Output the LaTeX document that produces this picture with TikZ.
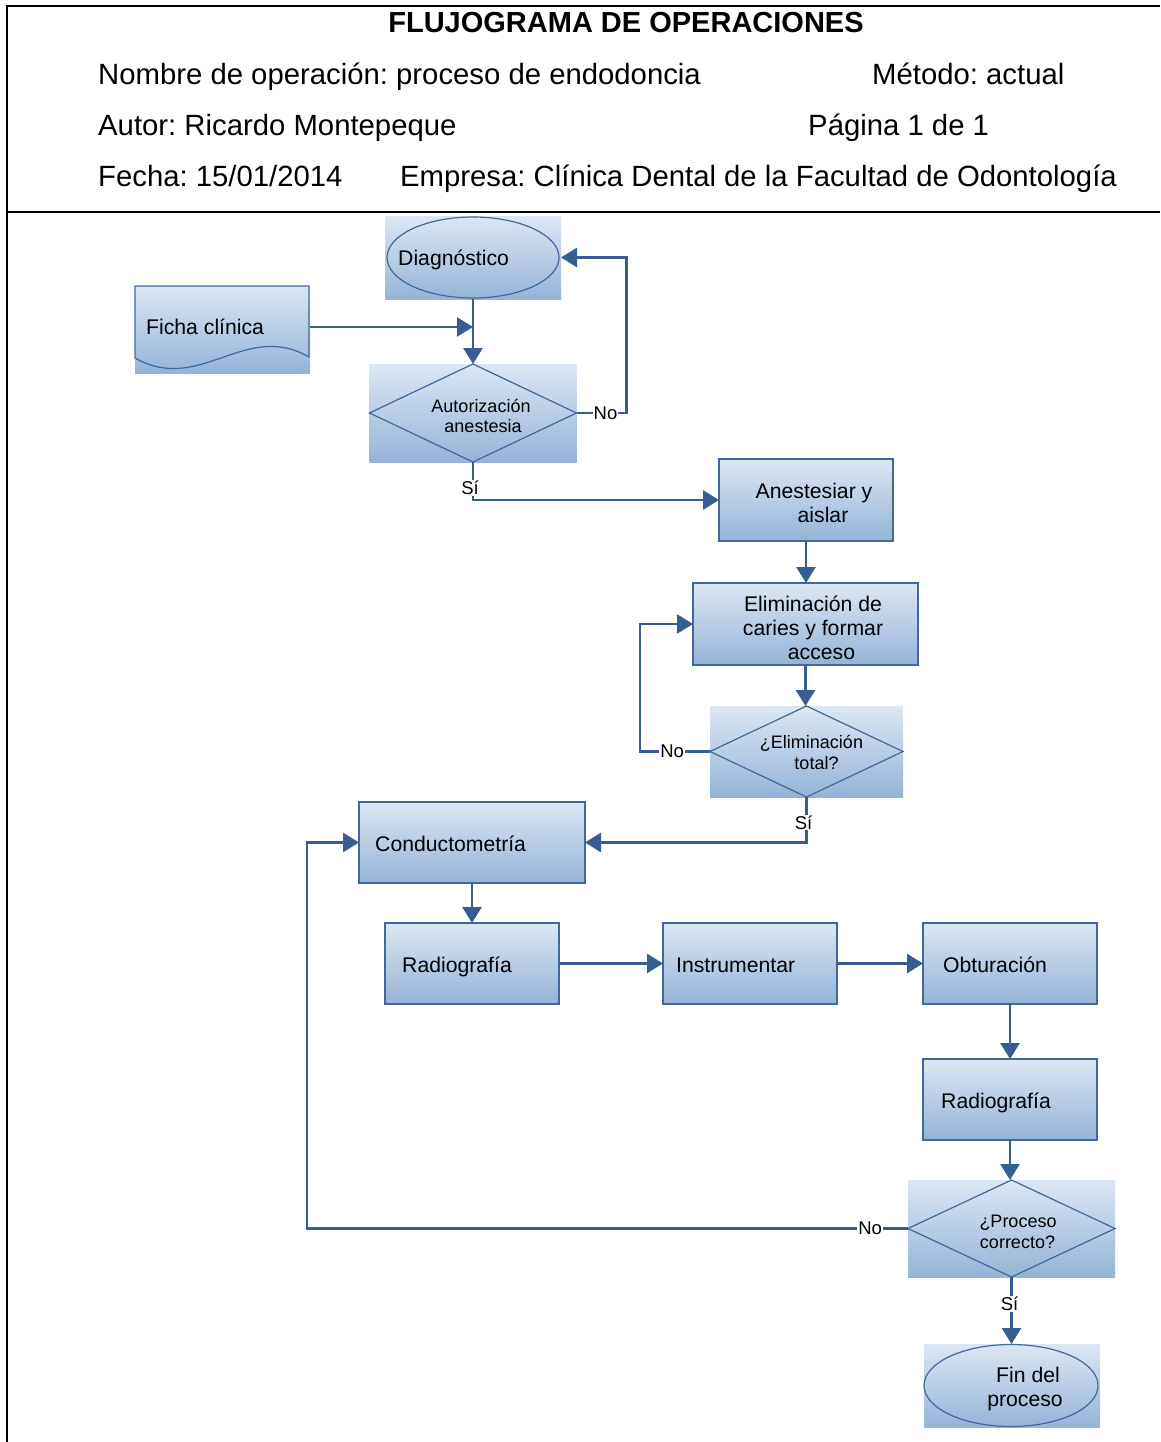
\documentclass[tikz,border=0pt]{standalone}
\usepackage{fontspec}
\setmainfont{Liberation Sans}
\frenchspacing
\usetikzlibrary{arrows.meta,calc}
\definecolor{flowline}{RGB}{54,94,146}
\definecolor{shapeline}{RGB}{66,104,156}
\definecolor{gradtop}{RGB}{221,231,243}
\definecolor{gradbot}{RGB}{149,179,215}
\tikzset{
  panel/.style={inner sep=0pt, outer sep=0pt, top color=gradtop, bottom color=gradbot, draw=none},
  procbox/.style={panel, draw=shapeline, line width=1.2pt},
  outline/.style={draw=shapeline, line width=1.2pt},
  flow/.style={draw=flowline, line width=2.8pt, -{Triangle[length=16pt,width=19pt]}},
  lbl/.style={fill=white, inner sep=1pt, font=\fontsize{18.5}{20}\selectfont},
  boxtxt/.style={inner sep=0pt, anchor=base west, font=\fontsize{21.2}{25}\selectfont},
  boxline/.style={inner sep=0pt, anchor=base, font=\fontsize{21.2}{25}\selectfont},
  diatxt/.style={inner sep=0pt, anchor=base, font=\fontsize{18}{20}\selectfont},
  headtxt/.style={inner sep=0pt, anchor=base west, font=\fontsize{29.3}{34}\selectfont},
}
\begin{document}
\begin{tikzpicture}[x=1pt, y=-1pt]
\useasboundingbox[fill=white] (0,0) rectangle (1160,1442);

% header frame
\draw[line width=2pt] (7,1442) -- (7,6) -- (1160,6);
\draw[line width=2pt] (7,212) -- (1160,212);

% header texts
\node[inner sep=0pt, anchor=base, font=\fontsize{29}{34}\selectfont\bfseries] (title) at (626,33) {FLUJOGRAMA DE OPERACIONES};
\node[headtxt] (hname) at (98,85) {Nombre de operación: proceso de endodoncia};
\node[headtxt] (hmeth) at (872,85) {Método: actual};
\node[headtxt] (hauth) at (98,136) {Autor: Ricardo Montepeque};
\node[headtxt] (hpage) at (808,136) {Página 1 de 1};
\node[headtxt] (hdate) at (98,187) {Fecha: 15/01/2014};
\node[headtxt] (hcomp) at (400,187) {Empresa: Clínica Dental de la Facultad de Odontología};

% shapes
\node[panel, minimum width=176, minimum height=83] (diag) at (473,257.5) {};
\draw[outline] (diag.center) ellipse [x radius=86, y radius=40.5];
\node[boxtxt] (diagt) at (398,265) {Diagnóstico};

\node[panel, minimum width=175, minimum height=87] (ficha) at (222.5,329.5) {};
\draw[outline] (135,358) -- (135,286) -- (309,286) -- (309,357)
  .. controls (245,320) and (200,395) .. (135,358);
\node[boxtxt] (fichat) at (146,334.5) {Ficha clínica};

\node[panel, minimum width=207, minimum height=98] (dA) at (473,413) {};
\draw[outline] (dA.north) -- (dA.east) -- (dA.south) -- (dA.west) -- cycle;
\node[diatxt] (dAt1) at (481,412) {Autorización};
\node[diatxt] (dAt2) at (483,432) {anestesia};

\node[procbox, minimum width=174, minimum height=82] (anest) at (806,500) {};
\node[boxline] (anestt1) at (814,498) {Anestesiar y};
\node[boxline] (anestt2) at (823,522) {aislar};

\node[procbox, minimum width=225, minimum height=82] (elim) at (805.5,624) {};
\node[boxline] (elimt1) at (813,611) {Eliminación de};
\node[boxline] (elimt2) at (813,635) {caries y formar};
\node[boxline] (elimt3) at (821.5,659) {acceso};

\node[panel, minimum width=193, minimum height=91] (dE) at (806.5,751.5) {};
\draw[outline] (dE.north) -- (dE.east) -- (dE.south) -- (dE.west) -- cycle;
\node[diatxt] (dEt1) at (811.5,748) {¿Eliminación};
\node[diatxt] (dEt2) at (816.5,769) {total?};

\node[procbox, minimum width=226, minimum height=81] (cond) at (472,842.5) {};
\node[boxtxt] (condt) at (375,851) {Conductometría};

\node[procbox, minimum width=174, minimum height=81] (rad1) at (472,963.5) {};
\node[boxtxt] (rad1t) at (402,972) {Radiografía};

\node[procbox, minimum width=174, minimum height=81] (instr) at (750,963.5) {};
\node[boxtxt] (instrt) at (676,972) {Instrumentar};

\node[procbox, minimum width=174, minimum height=81] (obt) at (1010,963.5) {};
\node[boxtxt] (obtt) at (943,972) {Obturación};

\node[procbox, minimum width=174, minimum height=81] (rad2) at (1010,1099.5) {};
\node[boxtxt] (rad2t) at (941,1108) {Radiografía};

\node[panel, minimum width=207, minimum height=97] (dP) at (1011.5,1228.5) {};
\draw[outline] (dP.north) -- (dP.east) -- (dP.south) -- (dP.west) -- cycle;
\node[diatxt] (dPt1) at (1018,1227) {¿Proceso};
\node[diatxt] (dPt2) at (1017.5,1248) {correcto?};

\node[panel, minimum width=176, minimum height=83] (fin) at (1012,1385.5) {};
\draw[outline] ([xshift=-1pt]fin.center) ellipse [x radius=87, y radius=41];
\node[boxline] (fint1) at (1028,1382) {Fin del};
\node[boxline] (fint2) at (1025,1406) {proceso};

% connectors
\draw[flow] (diag.south) -- (dA.north);
\draw[flow] ($(ficha.east)+(0,-2.5)$) -- ($(ficha.east -| diag.south)+(0,-2.5)$);
\draw[flow] (dA.east) -- node[lbl, pos=0.58] {No} ++(50,0) |- (diag.east);
\draw[flow] (dA.south) |- node[lbl, pos=0.34, xshift=-3pt] {Sí} (anest.west);
\draw[flow] (anest.south) -- (anest.south |- elim.north);
\draw[flow] (elim.south) -- (elim.south |- dE.north);
\draw[flow] (dE.west) -- node[lbl, pos=0.54] {No} ++(-70,0) |- (elim.west);
\draw[flow] (dE.south) |- node[lbl, pos=0.28, xshift=-3pt] {Sí} (cond.east);
\draw[flow] (cond.south) -- (rad1.north);
\draw[flow] (rad1.east) -- (instr.west);
\draw[flow] (instr.east) -- (obt.west);
\draw[flow] (obt.south) -- (rad2.north);
\draw[flow] (rad2.south) -- (rad2.south |- dP.north);
\draw[flow] (dP.west) -- node[lbl, pos=0.063] {No} ++(-601,0) |- (cond.west);
\draw[flow] (dP.south) -- node[lbl, pos=0.4, xshift=-2pt] {Sí} (dP.south |- fin.north);
\end{tikzpicture}
\end{document}
